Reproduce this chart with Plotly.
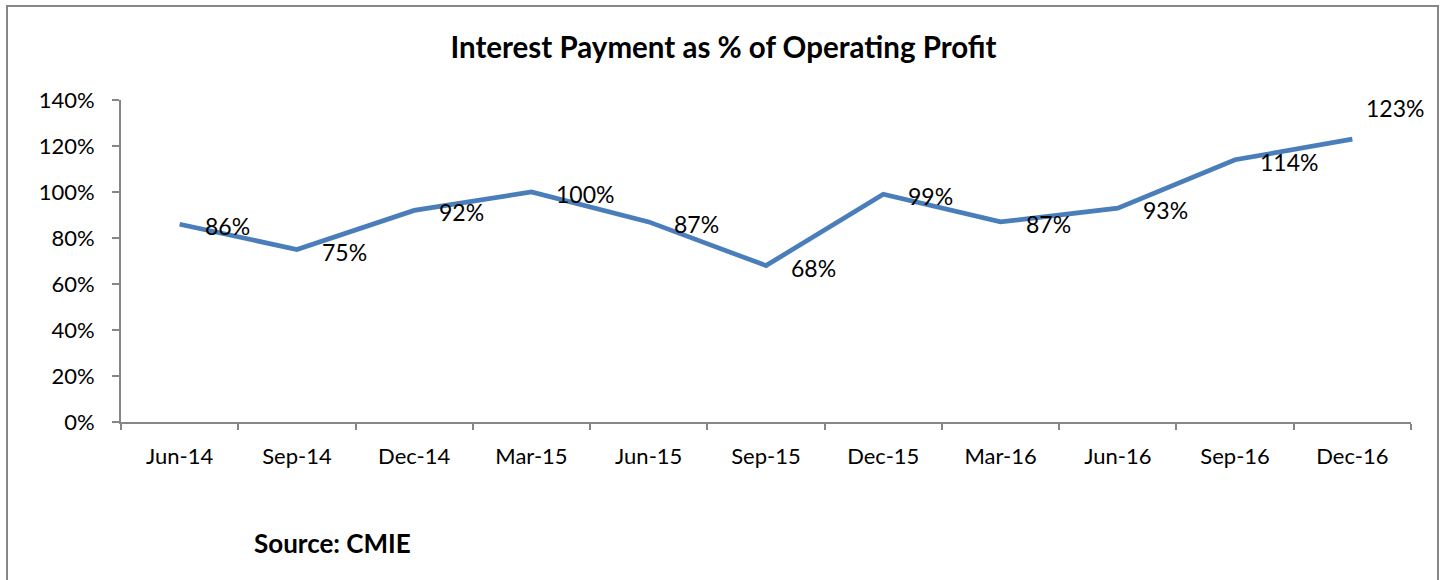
import plotly.graph_objects as go

categories = ["Jun-14", "Sep-14", "Dec-14", "Mar-15", "Jun-15", "Sep-15",
              "Dec-15", "Mar-16", "Jun-16", "Sep-16", "Dec-16"]
values = [86, 75, 92, 100, 87, 68, 99, 87, 93, 114, 123]
y_ticks = [0, 20, 40, 60, 80, 100, 120, 140]
y_tick_labels = [f"{v}%" for v in y_ticks]

FONT = "Lato, 'Open Sans', sans-serif"
AXIS_COLOR = "#868686"

fig = go.Figure()
fig.add_trace(go.Scatter(
    x=categories, y=values, mode="lines",
    line=dict(color="#4A7EBB", width=4.7),
    hoverinfo="x+y",
))

annotations = []
for i, (c, v) in enumerate(zip(categories, values)):
    last = i == len(values) - 1
    annotations.append(dict(
        x=c, y=v, xref="x", yref="y", text=f"{v}%", showarrow=False,
        xanchor="left", yanchor="middle",
        xshift=12 if last else 23, yshift=31 if last else -2,
        font=dict(family=FONT, size=23, color="#000000"),
    ))

annotations.append(dict(
    text="<b>Source: CMIE</b>", xref="paper", yref="paper",
    x=(252 - 121) / 1290, y=-(543 - 422) / 322, xanchor="left", yanchor="middle",
    showarrow=False, font=dict(family=FONT, size=26, color="#000000"),
))

fig.update_layout(
    width=1447, height=580,
    margin=dict(l=121, r=36, t=100, b=158),
    paper_bgcolor="white", plot_bgcolor="white",
    showlegend=False,
    title=dict(text="<b>Interest Payment as % of Operating Profit</b>",
               x=0.5, xanchor="center", y=1 - 48 / 580, yanchor="middle",
               font=dict(family=FONT, size=29.5, color="#000000")),
    annotations=annotations,
    shapes=[dict(type="rect", xref="paper", yref="paper",
                 x0=(7 - 121) / 1290, x1=(1438 - 121) / 1290,
                 y0=(422 - 600) / 322, y1=(422 - 6) / 322,
                 line=dict(color=AXIS_COLOR, width=2), fillcolor="rgba(0,0,0,0)",
                 layer="below")],
)

fig.update_xaxes(
    type="category", range=[-0.5, len(categories) - 0.5],
    showline=True, linecolor=AXIS_COLOR, linewidth=2,
    ticks="outside", tickson="boundaries", ticklen=6, tickcolor=AXIS_COLOR, tickwidth=2,
    showgrid=False, zeroline=False,
    tickfont=dict(family=FONT, size=22, color="#000000"),
    ticklabelstandoff=14,
)
fig.update_yaxes(
    range=[0, 140], tickvals=y_ticks, ticktext=y_tick_labels,
    showline=True, linecolor=AXIS_COLOR, linewidth=2,
    ticks="outside", ticklen=7, tickcolor=AXIS_COLOR, tickwidth=2,
    showgrid=False, zeroline=False,
    tickfont=dict(family=FONT, size=22, color="#000000"),
    ticklabelstandoff=13,
)

fig.write_html("out.html", config={"displayModeBar": False},
               post_script="document.body.style.margin='0px';")
